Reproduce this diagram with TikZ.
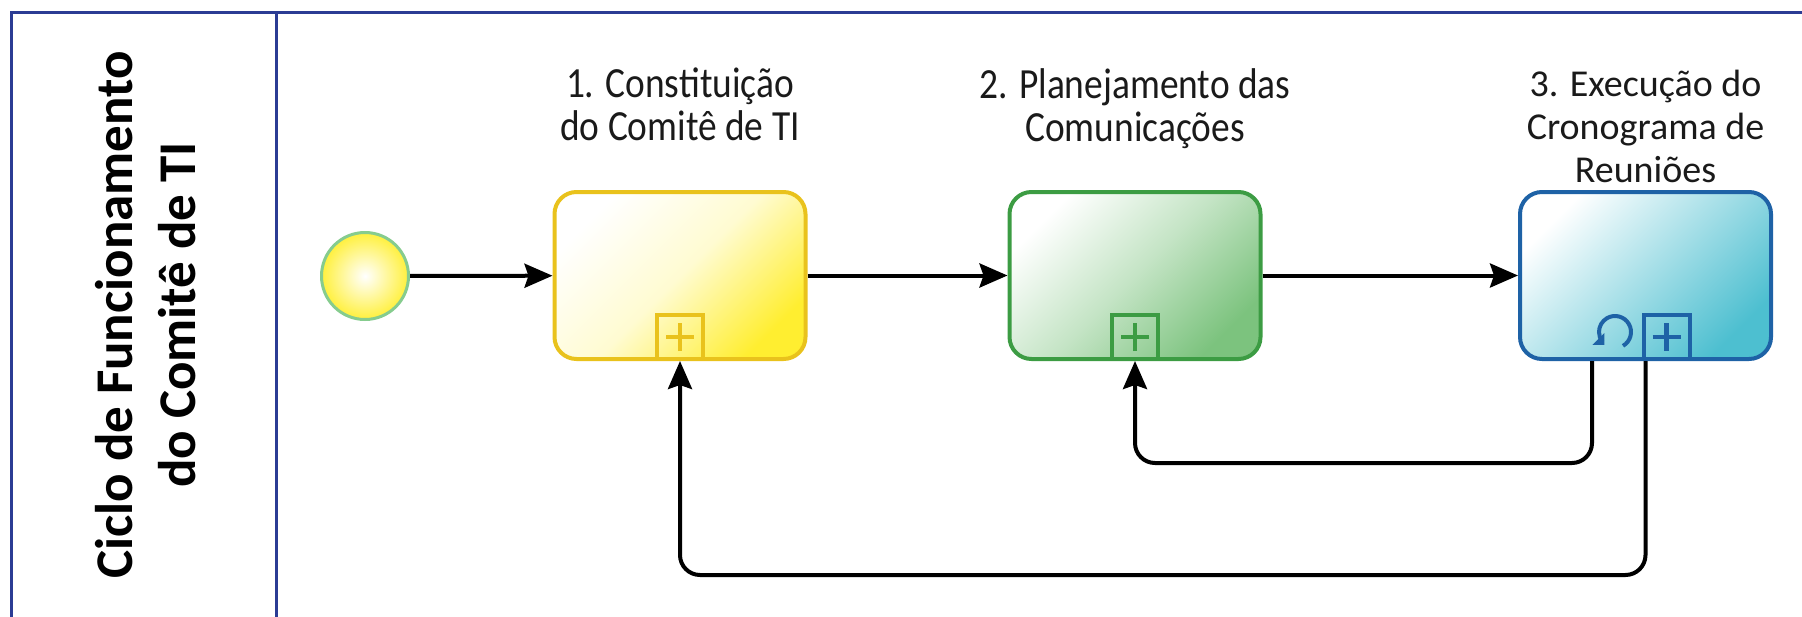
\documentclass[tikz,border=0pt]{standalone}
\usepackage{fontspec}
\setmainfont{Carlito}
\newfontfamily\condfont[FakeStretch=0.87]{Carlito}
\usetikzlibrary{arrows.meta}
\definecolor{frameblue}{HTML}{2B3C94}
\definecolor{yborder}{HTML}{E9C21C}
\definecolor{yfill}{HTML}{FFEE30}
\definecolor{gborder}{HTML}{3C9C43}
\definecolor{gfill}{HTML}{7CC37E}
\definecolor{bborder}{HTML}{1E62A6}
\definecolor{bfill}{HTML}{4DBFD0}
\definecolor{startborder}{HTML}{86CC8E}
\definecolor{startfill}{HTML}{FFF03C}
\definecolor{txt}{HTML}{1A1A1A}
\begin{document}
\begin{tikzpicture}[x=1pt,y=-1pt,
  frameline/.style={draw=frameblue, line width=3pt},
  taskbox/.style={draw, line width=4pt, rounded corners=22pt,
    minimum width=251pt, minimum height=167pt, inner sep=0pt},
  yellowtask/.style={taskbox, draw=yborder, top color=white, bottom color=yfill, middle color=yfill!22, shading angle=45},
  greentask/.style={taskbox, draw=gborder, top color=white, bottom color=gfill, middle color=gfill!45, shading angle=45},
  bluetask/.style={taskbox, draw=bborder, top color=white, bottom color=bfill, middle color=bfill!50, shading angle=45},
  marker/.style={draw, line width=4pt, minimum width=46pt, minimum height=44pt, inner sep=0pt, anchor=south},
  plussign/.style={line width=4.5pt},
  startev/.style={circle, draw=startborder, line width=3pt, minimum size=87pt, inner color=white, outer color=startfill},
  flow/.style={line width=4pt, draw=black, -{Stealth[length=28pt,width=24pt,inset=4pt]}},
  backflow/.style={flow, rounded corners=20pt},
  lbl/.style={align=center, text=txt, font=\fontsize{38}{43}\selectfont, anchor=north, inner sep=0pt},
  clbl/.style={lbl, font=\condfont\fontsize{43}{43}\selectfont},
  title/.style={align=center, text=black, rotate=90, font=\bfseries\fontsize{53}{63}\selectfont, inner sep=0pt}
]
\useasboundingbox (0,0) rectangle (1802,616);

% pool frame
\draw[frameline] (11,620) -- (11,12) -- (1806,12);
\draw[frameline] (276,12) -- (276,620);
\node[title] (pooltitle) at (146,315) {Ciclo de Funcionamento\\do Comitê de TI};

% start event
\node[startev] (start) at (365,276) {};

% tasks
\node[yellowtask] (t1) at (680,275.5) {};
\node[greentask] (t2) at (1135,275.5) {};
\node[bluetask] (t3) at (1645.5,275.5) {};

% labels
\node[clbl] (lab1) at (680,68) {1. Constituição\\do Comitê de TI};
\node[clbl] (lab2) at (1135,68) {2. Planejamento das\\Comunicações};
\node[lbl] (lab3) at (1645.5,70) {3. Execução do\\Cronograma de\\Reuniões};

% collapsed subprocess markers
\node[marker, draw=yborder] (m1) at (t1.south) {};
\draw[plussign, yborder] ([xshift=-14pt]m1.center) -- ([xshift=14pt]m1.center)
  ([yshift=-14pt]m1.center) -- ([yshift=14pt]m1.center);
\node[marker, draw=gborder] (m2) at (t2.south) {};
\draw[plussign, gborder] ([xshift=-14pt]m2.center) -- ([xshift=14pt]m2.center)
  ([yshift=-14pt]m2.center) -- ([yshift=14pt]m2.center);
\node[marker, draw=bborder] (m3) at ([xshift=21pt]t3.south) {};
\draw[plussign, bborder] ([xshift=-14pt]m3.center) -- ([xshift=14pt]m3.center)
  ([yshift=-14pt]m3.center) -- ([yshift=14pt]m3.center);
% loop marker
\coordinate (loopc) at (1615,332);
\draw[line width=4pt, bborder] (loopc) ++(-60:16pt) arc[start angle=-60, end angle=218, radius=16pt] coordinate (loopend);
\fill[bborder] (loopend) ++(-10pt,-3pt) -- ++(12pt,0pt) -- ++(0pt,12pt) -- cycle;

% sequence flows
\draw[flow] (start) -- (t1);
\draw[flow] (t1) -- (t2);
\draw[flow] (t2) -- (t3);

% loop-back flows
\coordinate (back1) at (1592,463);
\coordinate (back2) at (1645.5,575);
\draw[backflow] (back1 |- t3.south) -- (back1) -| (t2.south);
\draw[backflow] (t3.south) -- (t3.south |- back2) -| (t1.south);
\end{tikzpicture}
\end{document}
